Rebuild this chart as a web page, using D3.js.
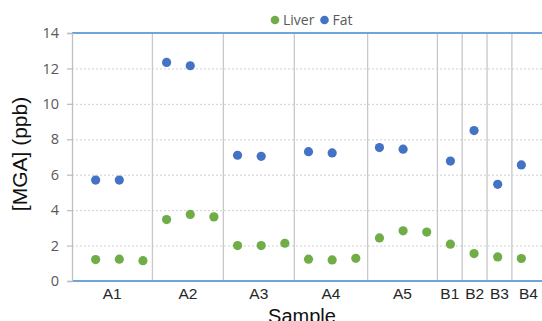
<!DOCTYPE html>
<html>
<head>
<meta charset="utf-8">
<script src="https://cdn.jsdelivr.net/npm/d3@7"></script>
<style>
  html, body { margin: 0; padding: 0; background: #fff; overflow: hidden; }
</style>
</head>
<body>
<div id="chart"></div>
<script>
// Sample slots 1..19, grouped into categories
const slots = [1, 2, 3, 4, 5, 6, 7, 8, 9, 10, 11, 12, 13, 14, 15, 16, 17, 18, 19];
const liver = [1.21, 1.23, 1.15, 3.47, 3.76, 3.62, 2.0, 2.0, 2.13, 1.23, 1.19, 1.28, 2.43, 2.83, 2.76, 2.08, 1.55, 1.36, 1.27];
const fat   = [5.70, 5.70, null, 12.34, 12.15, null, 7.10, 7.04, null, 7.30, 7.23, null, 7.53, 7.44, null, 6.77, 8.49, 5.46, 6.55];

const groups     = ["A1", "A2", "A3", "A4", "A5", "B1", "B2", "B3", "B4"];
const groupEdges = [0, 3.4, 6.4, 9.4, 12.5, 15.45, 16.5, 17.55, 18.6, 20];
const yTicks     = [0, 2, 4, 6, 8, 10, 12, 14];

const W = 542, H = 321;
const margin = { top: 33, left: 72, right: -3, bottom: 40 };
const iW = W - margin.left - margin.right;
const iH = H - margin.top - margin.bottom;

const GREEN = "#70AD47", BLUE = "#4472C4", AXISBLUE = "#6FA3DC";

const svg = d3.select("#chart").append("svg")
  .attr("width", W).attr("height", H)
  .style("font-family", "'Liberation Sans', Arial, sans-serif");

const g = svg.append("g").attr("transform", `translate(${margin.left},${margin.top})`);

const x = d3.scaleLinear().domain([0, 20]).range([0, iW]);
const y = d3.scaleLinear().domain([0, 14]).range([iH, 0]);

// dotted horizontal gridlines
g.append("g")
  .call(d3.axisLeft(y).tickValues(yTicks.filter(t => t > 0 && t < 14)).tickSize(-iW).tickFormat(""))
  .call(g => g.select(".domain").remove())
  .call(g => g.selectAll(".tick line").attr("stroke", "#d0d0d0").attr("stroke-dasharray", "2,2"));

// vertical separators between sample groups
g.selectAll(".sep").data(groupEdges.slice(1, -1)).join("line")
  .attr("x1", d => x(d)).attr("x2", d => x(d))
  .attr("y1", 0).attr("y2", iH)
  .attr("stroke", "#c8c8c8").attr("stroke-width", 1.3);

// blue top and bottom lines
[0, 14].forEach(v => {
  g.append("line")
    .attr("x1", 0).attr("x2", iW)
    .attr("y1", y(v)).attr("y2", y(v))
    .attr("stroke", AXISBLUE).attr("stroke-width", 2);
});

// y axis
g.append("g")
  .call(d3.axisLeft(y).tickValues(yTicks).tickSize(5).tickPadding(8))
  .call(g => g.select(".domain").attr("stroke", "#bfbfbf").attr("stroke-width", 1.3))
  .call(g => g.selectAll(".tick line").attr("stroke", "#bfbfbf").attr("stroke-width", 1.3))
  .call(g => g.selectAll("text").attr("fill", "#595959").attr("font-size", 14.5)
    .style("font-family", "'Open Sans', 'Noto Sans', sans-serif"));

// category labels centred in each group
g.selectAll(".cat").data(groups).join("text")
  .attr("x", (d, i) => x((groupEdges[i] + groupEdges[i + 1]) / 2))
  .attr("y", iH + 18)
  .attr("text-anchor", "middle")
  .attr("font-size", 15.5).attr("fill", "#262626")
  .text(d => d);

// points
g.selectAll(".liver").data(slots).join("circle")
  .attr("cx", d => x(d)).attr("cy", (d, i) => y(liver[i]))
  .attr("r", 4.6).attr("fill", GREEN);

g.selectAll(".fat").data(slots.filter((d, i) => fat[i] != null)).join("circle")
  .attr("cx", d => x(d)).attr("cy", d => y(fat[d - 1]))
  .attr("r", 4.6).attr("fill", BLUE);

// axis titles
svg.append("text")
  .attr("transform", `translate(27,${margin.top + iH / 2 - 3}) rotate(-90)`)
  .attr("text-anchor", "middle")
  .attr("font-size", 21).attr("fill", "#111")
  .text("[MGA] (ppb)");

svg.append("text")
  .attr("x", 302).attr("y", 323)
  .attr("text-anchor", "middle")
  .attr("font-size", 20).attr("fill", "#111")
  .text("Sample");

// legend
const legend = svg.append("g")
  .style("font-family", "'Open Sans', 'Noto Sans', sans-serif");
[["Liver", GREEN, 275], ["Fat", BLUE, 324.5]].forEach(([name, c, lx]) => {
  legend.append("circle").attr("cx", lx).attr("cy", 20).attr("r", 4.3).attr("fill", c);
  legend.append("text").attr("x", lx + 8).attr("y", 25)
    .attr("font-size", 14).attr("fill", "#595959").text(name);
});
</script>
</body>
</html>
